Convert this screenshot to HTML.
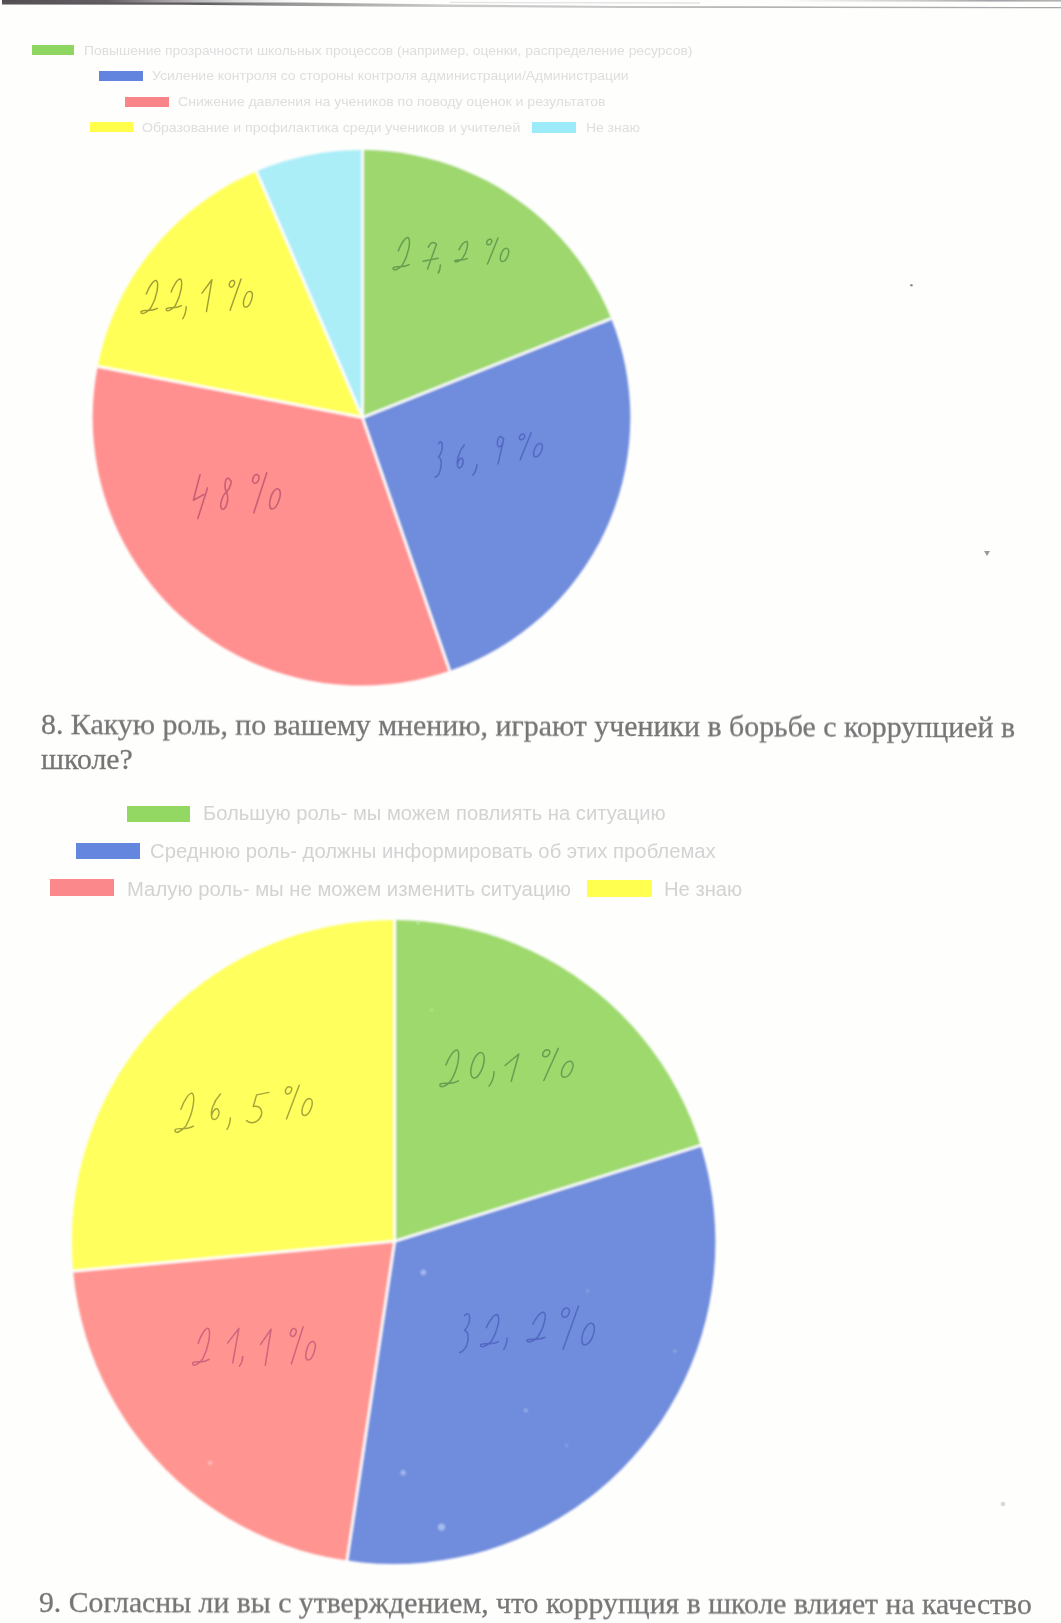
<!DOCTYPE html>
<html lang="ru">
<head>
<meta charset="utf-8">
<title>page</title>
<style>
html,body{margin:0;padding:0;}
body{width:1061px;height:1623px;background:#fefefd;position:relative;overflow:hidden;font-family:"Liberation Sans",sans-serif;}
.sw{position:absolute;filter:blur(0.5px);}
.l1{position:absolute;white-space:nowrap;font-family:"Liberation Sans",sans-serif;font-size:13.3px;line-height:16px;color:#dedede;filter:blur(0.5px);transform-origin:0 50%;transform:scaleX(1.045);}
.l2{position:absolute;white-space:nowrap;font-family:"Liberation Sans",sans-serif;font-size:19.4px;line-height:24px;color:#d3d3d3;filter:blur(0.6px);transform-origin:0 50%;transform:scaleX(1.041);}
.h{position:absolute;white-space:nowrap;font-family:"Liberation Serif",serif;font-size:29.8px;line-height:34px;color:#767676;-webkit-text-stroke:0.3px #767676;filter:blur(0.55px);}
svg{position:absolute;left:0;top:0;}
.topbar{position:absolute;left:0;top:0;width:1061px;height:12px;}
</style>
</head>
<body>
<svg class="topbar" width="1061" height="12" viewBox="0 0 1061 12">
<defs>
<linearGradient id="tg1" gradientUnits="userSpaceOnUse" x1="0" x2="1061" y1="0" y2="0">
<stop offset="0" stop-color="#565256"/><stop offset="0.10" stop-color="#5e5a5e"/><stop offset="0.19" stop-color="#5c5c5c"/><stop offset="0.28" stop-color="#9a9a9a"/><stop offset="0.42" stop-color="#cacaca"/><stop offset="0.58" stop-color="#c6c6c6"/><stop offset="0.75" stop-color="#b2b2b2"/><stop offset="1" stop-color="#a6a6a6"/>
</linearGradient>
<linearGradient id="tg2" gradientUnits="userSpaceOnUse" x1="0" x2="300" y1="0" y2="0">
<stop offset="0" stop-color="#524e52"/><stop offset="0.36" stop-color="#646064"/><stop offset="0.55" stop-color="#a49ea4"/><stop offset="0.8" stop-color="#dcdcdc"/><stop offset="1" stop-color="#fefefe"/>
</linearGradient>
<linearGradient id="tg3" gradientUnits="userSpaceOnUse" x1="780" x2="1061" y1="0" y2="0">
<stop offset="0" stop-color="#fefefe"/><stop offset="0.5" stop-color="#c8c8c8"/><stop offset="0.75" stop-color="#a4a4a8"/><stop offset="1" stop-color="#b4b4b4"/>
</linearGradient>
<filter id="tb"><feGaussianBlur stdDeviation="0.5"/></filter>
</defs>
<g filter="url(#tb)">
<polygon points="2,-1 300,-1 300,3.0 2,3.2" fill="url(#tg2)"/>
<rect x="780" y="-1" width="300" height="2.6" fill="url(#tg3)"/>
<polyline points="450,2.4 700,3" fill="none" stroke="#e4e4e4" stroke-width="1.3"/>
<polygon points="2,2.4 180,2.5 300,2.6 450,4.4 620,6.0 820,6.4 1061,7.0 1061,8.3 820,8.0 620,8.0 450,7.0 300,6.0 180,4.7 2,4.6" fill="url(#tg1)"/>
</g>
</svg>

<div class="sw" style="left:32px;top:44.8px;width:42px;height:10.5px;background:#8fd660"></div>
<div class="l1" style="left:83.8px;top:42.5px;">Повышение прозрачности школьных процессов (например, оценки, распределение ресурсов)</div>
<div class="sw" style="left:98.8px;top:71px;width:44px;height:10.2px;background:#6283de"></div>
<div class="l1" style="left:152.3px;top:68px;transform:scaleX(1.05);">Усиление контроля со стороны контроля администрации/Администрации</div>
<div class="sw" style="left:125px;top:96.6px;width:43.6px;height:10.6px;background:#f98588"></div>
<div class="l1" style="left:177.8px;top:94px;transform:scaleX(1.058);">Снижение давления на учеников по поводу оценок и результатов</div>
<div class="sw" style="left:89.5px;top:122px;width:43.6px;height:10.4px;background:#ffff4c"></div>
<div class="l1" style="left:142.2px;top:119.5px;transform:scaleX(1.06);">Образование и профилактика среди учеников и учителей</div>
<div class="sw" style="left:532px;top:122.4px;width:43.5px;height:10.6px;background:#9deaf8"></div>
<div class="l1" style="left:585.5px;top:119.5px;">Не знаю</div>

<svg width="1061" height="1623" viewBox="0 0 1061 1623">
<defs>
<filter id="soft" x="-2%" y="-2%" width="104%" height="104%"><feGaussianBlur stdDeviation="0.9"/></filter>
<filter id="soft2"><feGaussianBlur stdDeviation="0.6"/></filter>
</defs>
<g filter="url(#soft)">
<clipPath id="c1"><ellipse cx="361.5" cy="417.8" rx="268.8" ry="267.8"/></clipPath>
<g clip-path="url(#c1)">
<path d="M362.5,417.5 L362.50,108.70 A308.8,308.8 0 0 1 649.42,303.32 Z" fill="#9dd76e"/>
<path d="M362.5,417.5 L649.42,303.32 A308.8,308.8 0 0 1 463.04,709.48 Z" fill="#708cdc"/>
<path d="M362.5,417.5 L463.04,709.48 A308.8,308.8 0 0 1 59.27,359.11 Z" fill="#ff908f"/>
<path d="M362.5,417.5 L59.27,359.11 A308.8,308.8 0 0 1 240.36,133.88 Z" fill="#ffff59"/>
<path d="M362.5,417.5 L240.36,133.88 A308.8,308.8 0 0 1 362.50,108.70 Z" fill="#abeef8"/>
<line x1="362.5" y1="417.5" x2="362.50" y2="108.70" stroke="#ffffff" stroke-width="2.6" stroke-linecap="butt"/>
<line x1="362.5" y1="417.5" x2="649.42" y2="303.32" stroke="#ffffff" stroke-width="2.6" stroke-linecap="butt"/>
<line x1="362.5" y1="417.5" x2="463.04" y2="709.48" stroke="#ffffff" stroke-width="2.6" stroke-linecap="butt"/>
<line x1="362.5" y1="417.5" x2="59.27" y2="359.11" stroke="#ffffff" stroke-width="2.6" stroke-linecap="butt"/>
<line x1="362.5" y1="417.5" x2="240.36" y2="133.88" stroke="#ffffff" stroke-width="2.6" stroke-linecap="butt"/>
</g>
<clipPath id="c2"><ellipse cx="393.6" cy="1242.0" rx="321.8" ry="322.0"/></clipPath>
<g clip-path="url(#c2)">
<path d="M394.7,1241.3 L394.70,879.30 A362.0,362.0 0 0 1 740.13,1133.05 Z" fill="#9ed96d"/>
<path d="M394.7,1241.3 L740.13,1133.05 A362.0,362.0 0 0 1 341.19,1599.32 Z" fill="#708cdc"/>
<path d="M394.7,1241.3 L341.19,1599.32 A362.0,362.0 0 0 1 34.25,1274.74 Z" fill="#ff9490"/>
<path d="M394.7,1241.3 L34.25,1274.74 A362.0,362.0 0 0 1 394.70,879.30 Z" fill="#ffff5d"/>
<line x1="394.7" y1="1241.3" x2="394.70" y2="879.30" stroke="#ffffff" stroke-width="2.6" stroke-linecap="butt"/>
<line x1="394.7" y1="1241.3" x2="740.13" y2="1133.05" stroke="#ffffff" stroke-width="2.6" stroke-linecap="butt"/>
<line x1="394.7" y1="1241.3" x2="341.19" y2="1599.32" stroke="#ffffff" stroke-width="2.6" stroke-linecap="butt"/>
<line x1="394.7" y1="1241.3" x2="34.25" y2="1274.74" stroke="#ffffff" stroke-width="2.6" stroke-linecap="butt"/>
</g>
</g>
<g filter="url(#soft2)">
<g fill="none" stroke="#568f4a" stroke-width="1.5" stroke-linecap="round" stroke-linejoin="round" opacity="0.78">
<path vector-effect="non-scaling-stroke" transform="translate(392.0,237.0) scale(18.0,33.0)" d="M0.35,0.42 C0.5,0.2 0.75,0.0 0.9,0.02 C1.05,0.1 0.95,0.5 0.6,0.83 C0.4,0.98 0.05,1.05 0.06,0.94 C0.15,0.85 0.55,0.97 0.95,0.84"/>
<path vector-effect="non-scaling-stroke" transform="translate(423.0,241.0) scale(15.0,28.0)" d="M0.35,0.22 Q0.6,-0.06 0.9,0.12 L0.3,1.0 M0.0,0.72 L1.0,0.62"/>
<path vector-effect="non-scaling-stroke" transform="translate(438.0,265.0) scale(3.0,8.0)" d="M0.8,0 Q0.75,0.6 0.1,1"/>
<path vector-effect="non-scaling-stroke" transform="translate(454.0,241.0) scale(14.0,21.0)" d="M0.35,0.42 C0.5,0.2 0.75,0.0 0.9,0.02 C1.05,0.1 0.95,0.5 0.6,0.83 C0.4,0.98 0.05,1.05 0.06,0.94 C0.15,0.85 0.55,0.97 0.95,0.84"/>
<path vector-effect="non-scaling-stroke" transform="translate(485.0,238.0) scale(25.0,26.0)" d="M0.22,0.05 C0.34,0.08 0.24,0.28 0.12,0.26 C0.0,0.22 0.1,0.02 0.22,0.05 M0.52,0.0 L0.1,1.0 M0.88,0.40 C1.06,0.46 0.86,0.92 0.68,0.90 C0.5,0.86 0.7,0.36 0.88,0.40"/>
</g>
<g fill="none" stroke="#84842f" stroke-width="1.45" stroke-linecap="round" stroke-linejoin="round" opacity="0.78">
<path vector-effect="non-scaling-stroke" transform="translate(139.8,279.8) scale(18.4,33.9)" d="M0.35,0.42 C0.5,0.2 0.75,0.0 0.9,0.02 C1.05,0.1 0.95,0.5 0.6,0.83 C0.4,0.98 0.05,1.05 0.06,0.94 C0.15,0.85 0.55,0.97 0.95,0.84"/>
<path vector-effect="non-scaling-stroke" transform="translate(165.2,278.4) scale(17.0,32.5)" d="M0.35,0.42 C0.5,0.2 0.75,0.0 0.9,0.02 C1.05,0.1 0.95,0.5 0.6,0.83 C0.4,0.98 0.05,1.05 0.06,0.94 C0.15,0.85 0.55,0.97 0.95,0.84"/>
<path vector-effect="non-scaling-stroke" transform="translate(182.2,306.7) scale(5.0,12.0)" d="M0.8,0 Q0.75,0.6 0.1,1"/>
<path vector-effect="non-scaling-stroke" transform="translate(202.0,279.8) scale(12.7,31.8)" d="M0.0,0.42 L0.78,0.0 L0.35,1.0"/>
<path vector-effect="non-scaling-stroke" transform="translate(227.5,279.0) scale(26.1,31.2)" d="M0.22,0.05 C0.34,0.08 0.24,0.28 0.12,0.26 C0.0,0.22 0.1,0.02 0.22,0.05 M0.52,0.0 L0.1,1.0 M0.88,0.40 C1.06,0.46 0.86,0.92 0.68,0.90 C0.5,0.86 0.7,0.36 0.88,0.40"/>
</g>
<g fill="none" stroke="#4c5ebc" stroke-width="1.5" stroke-linecap="round" stroke-linejoin="round" opacity="0.78">
<path vector-effect="non-scaling-stroke" transform="translate(434.1,440.6) scale(9.9,36.7)" d="M0.45,0.08 C0.85,-0.08 1.05,0.22 0.45,0.45 C0.95,0.5 0.7,0.95 0.1,1.0"/>
<path vector-effect="non-scaling-stroke" transform="translate(456.0,444.8) scale(9.2,23.3)" d="M0.9,0.0 C0.3,0.3 0.0,0.7 0.2,0.95 C0.5,1.1 0.95,0.8 0.7,0.6 C0.5,0.5 0.2,0.7 0.15,0.85"/>
<path vector-effect="non-scaling-stroke" transform="translate(472.3,464.6) scale(5.7,10.6)" d="M0.8,0 Q0.75,0.6 0.1,1"/>
<path vector-effect="non-scaling-stroke" transform="translate(493.5,434.9) scale(11.3,29.0)" d="M0.9,0.15 C0.6,-0.05 0.3,0.1 0.35,0.35 C0.5,0.5 0.85,0.35 0.9,0.15 L0.4,1.0"/>
<path vector-effect="non-scaling-stroke" transform="translate(517.6,432.8) scale(26.1,26.8)" d="M0.22,0.05 C0.34,0.08 0.24,0.28 0.12,0.26 C0.0,0.22 0.1,0.02 0.22,0.05 M0.52,0.0 L0.1,1.0 M0.88,0.40 C1.06,0.46 0.86,0.92 0.68,0.90 C0.5,0.86 0.7,0.36 0.88,0.40"/>
</g>
<g fill="none" stroke="#b9526f" stroke-width="1.6" stroke-linecap="round" stroke-linejoin="round" opacity="0.78">
<path vector-effect="non-scaling-stroke" transform="translate(192.6,474.8) scale(14.9,43.8)" d="M0.5,0.0 L0.05,0.58 L0.75,0.45 M1.0,0.3 L0.35,1.0"/>
<path vector-effect="non-scaling-stroke" transform="translate(219.5,476.9) scale(12.7,33.9)" d="M0.85,0.1 C0.5,-0.1 0.3,0.25 0.55,0.45 C0.8,0.65 0.5,1.0 0.2,0.95 C-0.1,0.85 0.3,0.5 0.55,0.45 C0.9,0.3 1.0,0.1 0.85,0.1"/>
<path vector-effect="non-scaling-stroke" transform="translate(250.6,472.7) scale(31.1,40.3)" d="M0.22,0.05 C0.34,0.08 0.24,0.28 0.12,0.26 C0.0,0.22 0.1,0.02 0.22,0.05 M0.52,0.0 L0.1,1.0 M0.88,0.40 C1.06,0.46 0.86,0.92 0.68,0.90 C0.5,0.86 0.7,0.36 0.88,0.40"/>
</g>
<g fill="none" stroke="#568f4a" stroke-width="1.5" stroke-linecap="round" stroke-linejoin="round" opacity="0.78">
<path vector-effect="non-scaling-stroke" transform="translate(438.6,1049.2) scale(20.8,37.7)" d="M0.35,0.42 C0.5,0.2 0.75,0.0 0.9,0.02 C1.05,0.1 0.95,0.5 0.6,0.83 C0.4,0.98 0.05,1.05 0.06,0.94 C0.15,0.85 0.55,0.97 0.95,0.84"/>
<path vector-effect="non-scaling-stroke" transform="translate(468.3,1052.4) scale(18.4,25.7)" d="M0.7,0.0 C1.1,0.1 0.7,1.0 0.3,1.0 C-0.1,0.9 0.3,0.0 0.7,0.0"/>
<path vector-effect="non-scaling-stroke" transform="translate(488.3,1071.7) scale(7.2,14.4)" d="M0.8,0 Q0.75,0.6 0.1,1"/>
<path vector-effect="non-scaling-stroke" transform="translate(505.1,1054.0) scale(17.6,27.3)" d="M0.0,0.42 L0.78,0.0 L0.35,1.0"/>
<path vector-effect="non-scaling-stroke" transform="translate(540.4,1048.4) scale(34.4,32.1)" d="M0.22,0.05 C0.34,0.08 0.24,0.28 0.12,0.26 C0.0,0.22 0.1,0.02 0.22,0.05 M0.52,0.0 L0.1,1.0 M0.88,0.40 C1.06,0.46 0.86,0.92 0.68,0.90 C0.5,0.86 0.7,0.36 0.88,0.40"/>
</g>
<g fill="none" stroke="#8c8c32" stroke-width="1.45" stroke-linecap="round" stroke-linejoin="round" opacity="0.78">
<path vector-effect="non-scaling-stroke" transform="translate(173.6,1092.4) scale(20.8,40.1)" d="M0.35,0.42 C0.5,0.2 0.75,0.0 0.9,0.02 C1.05,0.1 0.95,0.5 0.6,0.83 C0.4,0.98 0.05,1.05 0.06,0.94 C0.15,0.85 0.55,0.97 0.95,0.84"/>
<path vector-effect="non-scaling-stroke" transform="translate(209.7,1094.0) scale(12.0,25.7)" d="M0.9,0.0 C0.3,0.3 0.0,0.7 0.2,0.95 C0.5,1.1 0.95,0.8 0.7,0.6 C0.5,0.5 0.2,0.7 0.15,0.85"/>
<path vector-effect="non-scaling-stroke" transform="translate(226.5,1118.0) scale(4.8,11.3)" d="M0.8,0 Q0.75,0.6 0.1,1"/>
<path vector-effect="non-scaling-stroke" transform="translate(246.5,1092.4) scale(22.5,31.3)" d="M1.0,0.0 L0.45,0.08 L0.3,0.45 C0.7,0.4 0.8,0.7 0.5,0.9 C0.3,1.0 0.1,0.98 0.0,0.9"/>
<path vector-effect="non-scaling-stroke" transform="translate(283.4,1085.2) scale(30.4,33.7)" d="M0.22,0.05 C0.34,0.08 0.24,0.28 0.12,0.26 C0.0,0.22 0.1,0.02 0.22,0.05 M0.52,0.0 L0.1,1.0 M0.88,0.40 C1.06,0.46 0.86,0.92 0.68,0.90 C0.5,0.86 0.7,0.36 0.88,0.40"/>
</g>
<g fill="none" stroke="#c0587a" stroke-width="1.5" stroke-linecap="round" stroke-linejoin="round" opacity="0.78">
<path vector-effect="non-scaling-stroke" transform="translate(191.6,1327.6) scale(18.5,37.7)" d="M0.35,0.42 C0.5,0.2 0.75,0.0 0.9,0.02 C1.05,0.1 0.95,0.5 0.6,0.83 C0.4,0.98 0.05,1.05 0.06,0.94 C0.15,0.85 0.55,0.97 0.95,0.84"/>
<path vector-effect="non-scaling-stroke" transform="translate(227.7,1328.4) scale(14.4,34.5)" d="M0.0,0.42 L0.78,0.0 L0.35,1.0"/>
<path vector-effect="non-scaling-stroke" transform="translate(238.9,1356.5) scale(4.8,9.6)" d="M0.8,0 Q0.75,0.6 0.1,1"/>
<path vector-effect="non-scaling-stroke" transform="translate(260.5,1329.2) scale(13.6,36.1)" d="M0.0,0.42 L0.78,0.0 L0.35,1.0"/>
<path vector-effect="non-scaling-stroke" transform="translate(288.6,1326.8) scale(28.0,36.9)" d="M0.22,0.05 C0.34,0.08 0.24,0.28 0.12,0.26 C0.0,0.22 0.1,0.02 0.22,0.05 M0.52,0.0 L0.1,1.0 M0.88,0.40 C1.06,0.46 0.86,0.92 0.68,0.90 C0.5,0.86 0.7,0.36 0.88,0.40"/>
</g>
<g fill="none" stroke="#4c5ebc" stroke-width="1.5" stroke-linecap="round" stroke-linejoin="round" opacity="0.78">
<path vector-effect="non-scaling-stroke" transform="translate(458.4,1312.4) scale(13.6,40.1)" d="M0.45,0.08 C0.85,-0.08 1.05,0.22 0.45,0.45 C0.95,0.5 0.7,0.95 0.1,1.0"/>
<path vector-effect="non-scaling-stroke" transform="translate(479.3,1314.0) scale(20.0,32.9)" d="M0.35,0.42 C0.5,0.2 0.75,0.0 0.9,0.02 C1.05,0.1 0.95,0.5 0.6,0.83 C0.4,0.98 0.05,1.05 0.06,0.94 C0.15,0.85 0.55,0.97 0.95,0.84"/>
<path vector-effect="non-scaling-stroke" transform="translate(503.3,1338.0) scale(4.8,11.3)" d="M0.8,0 Q0.75,0.6 0.1,1"/>
<path vector-effect="non-scaling-stroke" transform="translate(525.7,1311.6) scale(20.1,30.5)" d="M0.35,0.42 C0.5,0.2 0.75,0.0 0.9,0.02 C1.05,0.1 0.95,0.5 0.6,0.83 C0.4,0.98 0.05,1.05 0.06,0.94 C0.15,0.85 0.55,0.97 0.95,0.84"/>
<path vector-effect="non-scaling-stroke" transform="translate(559.4,1306.0) scale(36.8,43.3)" d="M0.22,0.05 C0.34,0.08 0.24,0.28 0.12,0.26 C0.0,0.22 0.1,0.02 0.22,0.05 M0.52,0.0 L0.1,1.0 M0.88,0.40 C1.06,0.46 0.86,0.92 0.68,0.90 C0.5,0.86 0.7,0.36 0.88,0.40"/>
</g>
</g>
<g filter="url(#soft)">
<circle cx="423.3" cy="1272.4" r="2.8" fill="#a3b8ef"/>
<circle cx="403.1" cy="1472.8" r="2.8" fill="#a0b6ee"/>
<circle cx="441.5" cy="1527.2" r="3.6" fill="#a6bbf0"/>
<circle cx="525.8" cy="1410.3" r="1.9" fill="#9db3ec"/>
<circle cx="674.9" cy="1351" r="1.5" fill="#9db3ec"/>
<circle cx="587.7" cy="1291" r="1.4" fill="#93aae8"/>
<circle cx="566.5" cy="1445.5" r="1.4" fill="#93aae8"/>
<circle cx="210.2" cy="1463" r="2.3" fill="#ffb9b8"/>
<circle cx="431.6" cy="1010.3" r="1.2" fill="#c4ecaa"/>
<circle cx="418" cy="923" r="1.3" fill="#d6f2c0"/>
</g>
<circle cx="911.4" cy="285.2" r="1.3" fill="#8a8a8a"/>
<path d="M984,551 L990,551 L987,556 Z" fill="#9a9a9a"/>
<circle cx="1003" cy="1504" r="2.2" fill="#d8d8d8"/>
</svg>

<div class="h" style="left:41px;top:707.4px;font-size:29.87px;transform-origin:0 50%;transform:rotate(0.19deg);">8. Какую роль, по вашему мнению, играют ученики в борьбе с коррупцией в</div>
<div class="h" style="left:41px;top:742.3px;">школе?</div>

<div class="sw" style="left:127px;top:805.5px;width:63px;height:16px;background:#92d862"></div>
<div class="l2" style="left:202.6px;top:801px;">Большую роль- мы можем повлиять на ситуацию</div>
<div class="sw" style="left:76px;top:842.8px;width:63.5px;height:16.2px;background:#6586de"></div>
<div class="l2" style="left:150.3px;top:839px;transform:scaleX(1.045);">Среднюю роль- должны информировать об этих проблемах</div>
<div class="sw" style="left:50.3px;top:879px;width:63.5px;height:17px;background:#fb888a"></div>
<div class="l2" style="left:127.3px;top:876.5px;transform:scaleX(1.046);">Малую роль- мы не можем изменить ситуацию</div>
<div class="sw" style="left:587px;top:880.4px;width:65px;height:17px;background:#ffff50"></div>
<div class="l2" style="left:663.5px;top:876.5px;">Не знаю</div>

<div class="h" style="left:39px;top:1585px;font-size:29.72px;transform-origin:0 50%;transform:rotate(0.12deg);">9. Согласны ли вы с утверждением, что коррупция в школе влияет на качество</div>
</body>
</html>
